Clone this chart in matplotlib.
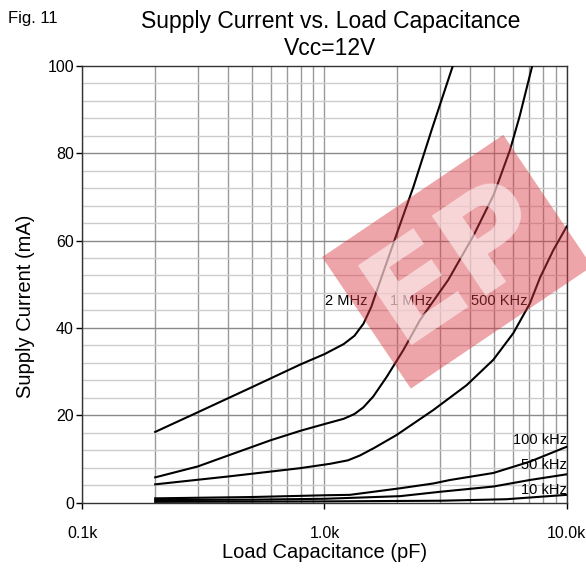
import matplotlib
matplotlib.use('Agg')
import matplotlib.pyplot as plt
from matplotlib.ticker import FixedLocator, NullFormatter
import numpy as np

plt.rcParams['font.family'] = ['Liberation Sans', 'DejaVu Sans']

# Supply current (mA) vs load capacitance (pF)
cap_2mhz = [200, 300, 500, 800, 1000, 1200, 1330, 1450, 1560, 1700, 1990, 2330, 2770, 3390]
cur_2mhz = [16.2, 20.7, 26.4, 31.7, 34.0, 36.3, 38.2, 41.0, 44.8, 50.8, 61.6, 72.3, 85.3, 100]

cap_1mhz = [200, 300, 400, 600, 800, 1000, 1200, 1330, 1446, 1590, 1807, 2115, 2480, 3245, 4113, 5000, 5834, 6400, 7211]
cur_1mhz = [5.8, 8.3, 10.8, 14.3, 16.5, 18.0, 19.2, 20.3, 21.8, 24.3, 28.8, 34.9, 41.8, 51.0, 61.0, 70.5, 80.7, 88.5, 100]

cap_500k = [200, 400, 792, 1054, 1250, 1400, 1600, 1986, 2813, 3864, 4978, 6021, 7050, 7762, 8809, 10000]
cur_500k = [4.2, 6.0, 7.9, 8.9, 9.7, 10.8, 12.5, 15.5, 21.2, 26.9, 32.7, 38.8, 45.6, 51.5, 57.8, 63.2]

cap_100k = [200, 500, 1000, 1274, 2051, 2813, 3300, 4978, 7050, 10000]
cur_100k = [1.0, 1.3, 1.7, 1.8, 3.3, 4.4, 5.2, 6.8, 9.4, 12.8]

cap_50k = [200, 500, 1000, 2051, 3000, 4978, 7050, 10000]
cur_50k = [0.6, 0.7, 0.9, 1.5, 2.5, 3.7, 5.2, 6.5]

cap_10k = [200, 1000, 2000, 3000, 5640, 10000]
cur_10k = [0.2, 0.3, 0.4, 0.45, 0.8, 1.8]

curves = [(cap_2mhz, cur_2mhz), (cap_1mhz, cur_1mhz), (cap_500k, cur_500k),
          (cap_100k, cur_100k), (cap_50k, cur_50k), (cap_10k, cur_10k)]

# curve labels: text, x, y, alignment
labels = [('2 MHz', 1227, 46.1, 'center'), ('1 MHz', 2276, 46.1, 'center'),
          ('500 KHz', 5254, 46.1, 'center'), ('100 kHz', 10000, 14.3, 'right'),
          ('50 kHz', 10000, 8.6, 'right'), ('10 kHz', 10000, 2.9, 'right')]

x_ticks = [100, 1000, 10000]
x_ticklabels = ['0.1k', '1.0k', '10.0k']
y_ticks = [0, 20, 40, 60, 80, 100]

fig = plt.figure(figsize=(5.86, 5.69), dpi=100)
ax = fig.add_axes([0.1404, 0.1165, 0.8266, 0.768])

ax.set_xscale('log')
ax.set_xlim(100, 10000)
ax.set_ylim(0, 100)

# grid
minor_x = [m * d for d in (100, 1000) for m in range(2, 10)]
for xv in minor_x + x_ticks:
    ax.axvline(xv, color='#9a9a9a', lw=1.0, zorder=1)
for yv in np.arange(4, 100, 4):
    if yv % 20 != 0:
        ax.axhline(yv, color='#cccccc', lw=1.0, zorder=1)
for yv in y_ticks[1:-1]:
    ax.axhline(yv, color='#8a8a8a', lw=1.0, zorder=1)

for cx, cy in curves:
    ax.plot(cx, cy, color='black', lw=1.5, zorder=3)

for txt, lx, ly, ha in labels:
    ax.text(lx, ly, txt, ha=ha, va='center', fontsize=10.5, zorder=4)

ax.xaxis.set_major_locator(FixedLocator(x_ticks))
ax.xaxis.set_minor_locator(FixedLocator([]))
ax.xaxis.set_minor_formatter(NullFormatter())
ax.set_xticklabels(x_ticklabels)
ax.set_yticks(y_ticks)
ax.tick_params(direction='out', length=4, width=1, labelsize=11.5)
ax.tick_params(axis='x', pad=13)
ax.tick_params(axis='y', pad=2)

for sp in ax.spines.values():
    sp.set_color('#333333')
    sp.set_linewidth(1.0)

ax.set_xlabel('Load Capacitance (pF)', fontsize=14.5)
ax.set_ylabel('Supply Current (mA)', fontsize=14.5)
ax.xaxis.set_label_coords(0.5, -0.092)
ax.yaxis.set_label_coords(-0.098, 0.45)

fig.text(0.564, 0.963, 'Supply Current vs. Load Capacitance', ha='center', va='center', fontsize=16.5)
fig.text(0.564, 0.915, 'Vcc=12V', ha='center', va='center', fontsize=16.5)
fig.text(0.014, 0.967, 'Fig. 11', ha='left', va='center', fontsize=12)

# watermark
fig.text(0.78, 0.54, 'EP', ha='center', va='center', rotation=34, fontsize=95,
         fontweight='bold', family='DejaVu Sans', color=(1, 1, 1, 0.55),
         bbox=dict(boxstyle='square,pad=0.12', facecolor=(0.86, 0.22, 0.26, 0.45), edgecolor='none'),
         zorder=10)

fig.savefig('out.png', dpi=100)
